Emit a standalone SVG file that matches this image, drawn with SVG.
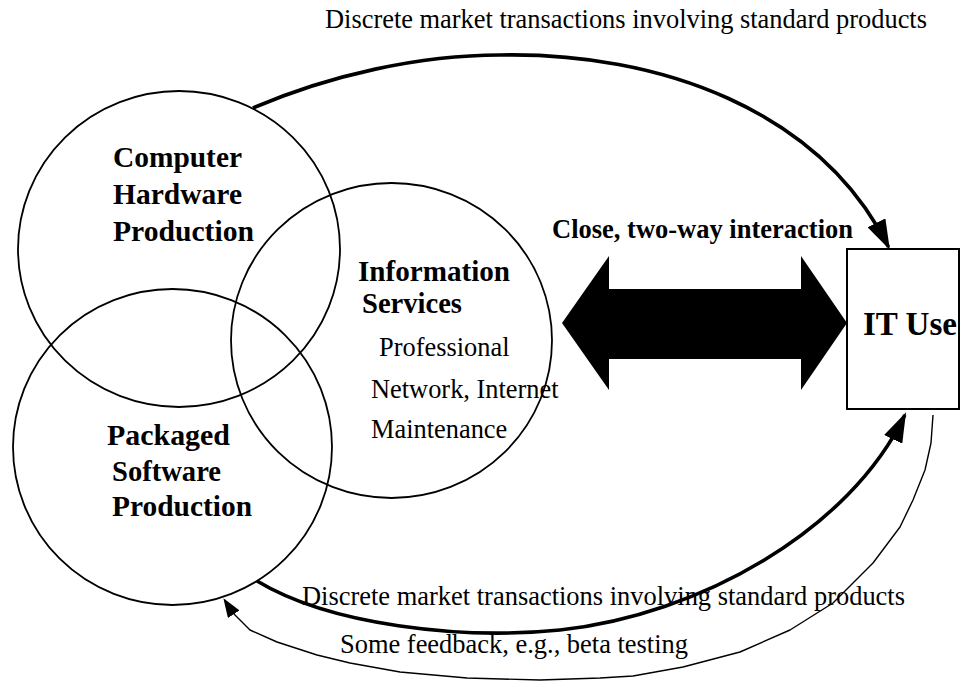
<svg xmlns="http://www.w3.org/2000/svg" width="961" height="681" viewBox="0 0 961 681">
  <style>
    .ring { fill: none; stroke: #000; stroke-width: 1.8; }
    .box { fill: #fff; stroke: #000; stroke-width: 2; }
    .flow { fill: none; stroke: #000; stroke-width: 3.6; }
    .thin { fill: none; stroke: #000; stroke-width: 1.4; stroke-linejoin: round; }
    .reg { font-family: "Liberation Serif", "Times New Roman", serif; font-size: 26.4px; fill: #000; }
    .bold { font-family: "Liberation Serif", "Times New Roman", serif; font-size: 29px; font-weight: bold; fill: #000; }
  </style>
  <defs>
    <marker id="headBig" markerUnits="userSpaceOnUse" markerWidth="30" markerHeight="20" viewBox="0 0 30 20" refX="27" refY="10" orient="auto">
      <path d="M0,0 L30,10 L0,20 Z" fill="#000"/>
    </marker>
    <marker id="headSmall" markerUnits="userSpaceOnUse" markerWidth="19" markerHeight="14" viewBox="0 0 19 14" refX="17" refY="7" orient="auto">
      <path d="M0,0 L19,7 L0,14 Z" fill="#000"/>
    </marker>
  </defs>

  <!-- IT-producing sectors -->
  <g id="hardware">
    <ellipse class="ring" cx="179" cy="249" rx="161" ry="158"/>
    <text class="bold" x="113" y="167" textLength="129" lengthAdjust="spacingAndGlyphs">Computer</text>
    <text class="bold" x="113" y="204" textLength="129" lengthAdjust="spacingAndGlyphs">Hardware</text>
    <text class="bold" x="113" y="241" textLength="141" lengthAdjust="spacingAndGlyphs">Production</text>
  </g>

  <g id="software">
    <ellipse class="ring" cx="172.5" cy="447" rx="159.5" ry="158"/>
    <text class="bold" x="107" y="445" textLength="123" lengthAdjust="spacingAndGlyphs">Packaged</text>
    <text class="bold" x="112" y="481" textLength="109" lengthAdjust="spacingAndGlyphs">Software</text>
    <text class="bold" x="112" y="516" textLength="140" lengthAdjust="spacingAndGlyphs">Production</text>
  </g>

  <g id="services">
    <ellipse class="ring" cx="391.5" cy="340.5" rx="160.5" ry="157.5"/>
    <text class="bold" x="358" y="281" textLength="152" lengthAdjust="spacingAndGlyphs">Information</text>
    <text class="bold" x="362" y="313" textLength="100" lengthAdjust="spacingAndGlyphs">Services</text>
    <text class="reg" x="379" y="356">Professional</text>
    <text class="reg" x="371" y="398">Network, Internet</text>
    <text class="reg" x="371" y="438">Maintenance</text>
  </g>

  <!-- IT-using sector -->
  <g id="it-use">
    <rect class="box" x="847" y="249" width="112" height="160"/>
    <text class="bold" x="863" y="335" style="font-size:33px" textLength="94" lengthAdjust="spacingAndGlyphs">IT Use</text>
  </g>

  <!-- links between producers and users -->
  <g id="connectors">
    <path class="flow" d="M253,108 C330,75 420,55 500,55 C660,52 820,110 888.5,247" marker-end="url(#headBig)"/>
    <path class="flow" d="M257,581 C330,625 460,640 560,630 C700,615 850,530 904.8,415" marker-end="url(#headBig)"/>
    <path class="thin" d="M933,415 L931,443 L925,470 L913,500 L900,527 L873,563 L833,603 L790,630 L740,652 L683,667 L633,676 L600,678 L540,680 L467,678 L400,672 L350,663 L317,655 L277,642 L250,630 L233,613 L224.5,600" marker-end="url(#headSmall)"/>
    <polygon points="562,323 609,256 609,289 801,289 801,256 847,323 801,390 801,359 609,359 609,390" fill="#000"/>
  </g>

  <!-- connector labels -->
  <g id="labels">
    <text class="reg" x="325" y="28" textLength="602" lengthAdjust="spacingAndGlyphs">Discrete market transactions involving standard products</text>
    <text class="bold" x="552" y="238" style="font-size:26.5px" textLength="301" lengthAdjust="spacingAndGlyphs">Close, two-way interaction</text>
    <text class="reg" x="302" y="605" textLength="603" lengthAdjust="spacingAndGlyphs">Discrete market transactions involving standard products</text>
    <text class="reg" x="340" y="653" textLength="348" lengthAdjust="spacingAndGlyphs">Some feedback, e.g., beta testing</text>
  </g>
</svg>
